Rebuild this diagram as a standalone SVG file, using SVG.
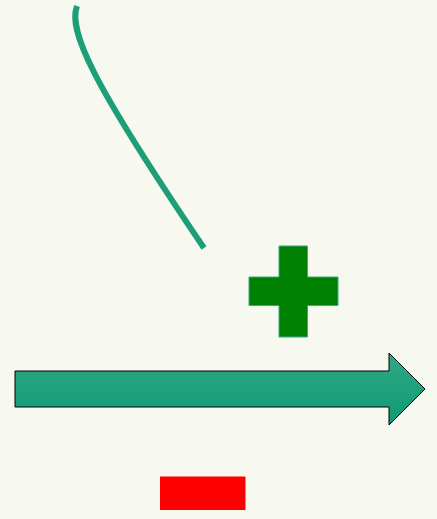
<svg xmlns="http://www.w3.org/2000/svg" width="437" height="519" viewBox="0 0 437 519">
<defs>
<linearGradient id="g" x1="0" y1="0" x2="0" y2="1">
<stop offset="0" stop-color="#2ea884"/>
<stop offset="1" stop-color="#129a76"/>
</linearGradient>
<style>
.curve{fill:none;stroke:#1d9e78;stroke-width:6}
</style>
</defs>
<rect width="437" height="519" fill="#f7f9f1"/>
<g id="curve"><path class="curve" d="M77,6 C68,30 90,80 204,248"/></g>
<g id="plus"><path d="M279,246 H307.5 V277 H338 V305.5 H307.5 V337 H279 V305.5 H249 V277 H279 Z" fill="#008000" stroke="#3aa88a" stroke-width="1"/></g>
<g id="arrow"><path d="M15,371 H389 V353 L425,389 L389,425 V407 H15 Z" fill="url(#g)" stroke="#000" stroke-width="1"/></g>
<g id="minus"><rect x="160" y="476.5" width="85.5" height="33.5" fill="#ff0000"/></g>
</svg>
